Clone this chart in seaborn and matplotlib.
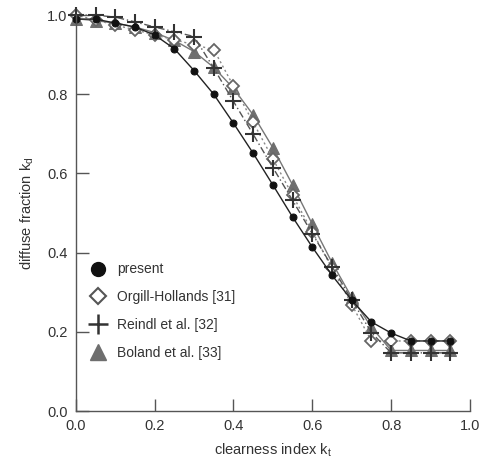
import matplotlib
matplotlib.use("Agg")
import matplotlib.pyplot as plt
from matplotlib.lines import Line2D
import seaborn as sns
import pandas as pd

kt = [0.0, 0.05, 0.10, 0.15, 0.20, 0.25, 0.30, 0.35, 0.40, 0.45,
      0.50, 0.55, 0.60, 0.65, 0.70, 0.75, 0.80, 0.85, 0.90, 0.95]
present = [0.99, 0.99, 0.98, 0.97, 0.95, 0.915, 0.86, 0.80, 0.727, 0.651,
           0.571, 0.49, 0.414, 0.343, 0.28, 0.225, 0.197, 0.177, 0.177, 0.177]
orgill = [1.0, 0.988, 0.975, 0.963, 0.95, 0.938, 0.925, 0.913, 0.821, 0.729,
          0.637, 0.545, 0.453, 0.361, 0.269, 0.177, 0.177, 0.177, 0.177, 0.177]
reindl = [1.0, 1.0, 0.995, 0.983, 0.97, 0.958, 0.946, 0.866, 0.782, 0.699,
          0.615, 0.532, 0.448, 0.365, 0.281, 0.198, 0.147, 0.147, 0.147, 0.147]
boland = [0.991, 0.986, 0.98, 0.97, 0.956, 0.936, 0.908, 0.868, 0.815, 0.748,
          0.665, 0.571, 0.472, 0.375, 0.287, 0.212, 0.153, 0.153, 0.153, 0.153]
labels = ["present", "Orgill-Hollands [31]", "Reindl et al. [32]", "Boland et al. [33]"]

sns.set_style("white")
plt.rcParams['font.family'] = ['Liberation Sans', 'DejaVu Sans']
plt.rcParams['mathtext.fontset'] = 'custom'
plt.rcParams['mathtext.rm'] = 'Liberation Sans'

fig = plt.figure(figsize=(4.86, 4.73), dpi=100)
ax = fig.add_axes([0.156, 0.131, 0.811, 0.837])

df = pd.DataFrame({"kt": kt, "present": present, "orgill": orgill,
                   "reindl": reindl, "boland": boland})

styles = [
    ("boland", dict(color="#777777", lw=1.0, ls="-", marker="^", ms=8, mfc="#6e6e6e", mec="#6e6e6e")),
    ("orgill", dict(color="#888888", lw=1.0, ls=(0, (1.5, 2)), marker="D", ms=6, mfc="white", mec="#666666", mew=1.3)),
    ("reindl", dict(color="#555555", lw=1.0, ls=(0, (5, 2, 1, 2)), marker="+", ms=12, mec="#333333", mew=1.5)),
    ("present", dict(color="#222222", lw=1.0, ls="-", marker="o", ms=5, mfc="#111111", mec="#111111")),
]
for col, st in styles:
    sns.lineplot(data=df, x="kt", y=col, ax=ax, clip_on=False, **st)

ax.set_xlim(0, 1.0)
ax.set_ylim(0, 1.0)
ax.set_xticks([0.0, 0.2, 0.4, 0.6, 0.8, 1.0])
ax.set_yticks([0.0, 0.2, 0.4, 0.6, 0.8, 1.0])
ax.set_xticklabels(["0.0", "0.2", "0.4", "0.6", "0.8", "1.0"])
ax.set_yticklabels(["0.0", "0.2", "0.4", "0.6", "0.8", "1.0"])
for s in ["top", "right"]:
    ax.spines[s].set_visible(False)
for s in ["left", "bottom"]:
    ax.spines[s].set_color("#555555")
    ax.spines[s].set_linewidth(1.0)
ax.tick_params(bottom=True, left=True, direction="in", length=9, width=1.0, color="#555555",
               labelsize=10.5, labelcolor="#333333", pad=6)
ax.set_xlabel(r"clearness index k$_\mathrm{t}$", fontsize=10.5, color="#333333", labelpad=6)
ax.set_ylabel(r"diffuse fraction k$_\mathrm{d}$", fontsize=10.5, color="#333333", labelpad=8)

handles = [
    Line2D([], [], ls="none", marker="o", ms=10, mfc="#111111", mec="#111111"),
    Line2D([], [], ls="none", marker="D", ms=8, mfc="white", mec="#555555", mew=1.5),
    Line2D([], [], ls="none", marker="+", ms=14, mec="#333333", mew=1.8),
    Line2D([], [], ls="none", marker="^", ms=11, mfc="#6e6e6e", mec="#6e6e6e"),
]
leg = ax.legend(handles, labels, loc="upper left", bbox_to_anchor=(0.01, 0.40),
                frameon=False, fontsize=10, labelspacing=1.0, handlelength=1.2,
                handletextpad=0.8, borderaxespad=0.3)
for t in leg.get_texts():
    t.set_color("#333333")

fig.savefig("out.png", dpi=100)
